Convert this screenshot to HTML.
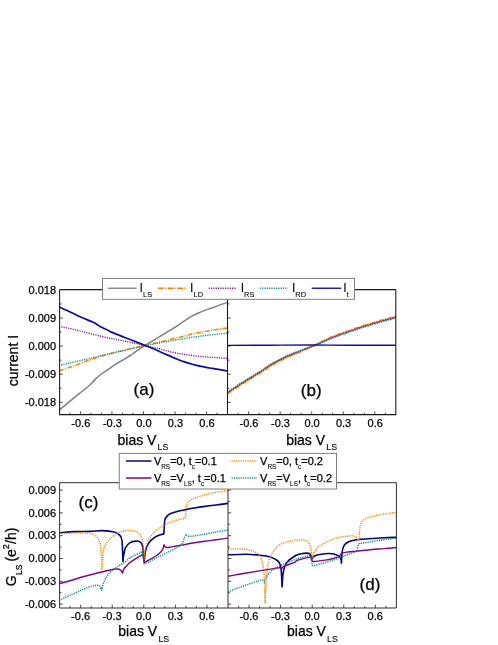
<!DOCTYPE html>
<html><head><meta charset="utf-8"><style>
html,body{margin:0;padding:0;background:#fff}
svg{display:block;will-change:transform}
text{font-family:"Liberation Sans",sans-serif;fill:#000;stroke:#000;stroke-width:0.25px}
.s{stroke-width:0.08px}
</style></head><body>
<svg width="498" height="645" viewBox="0 0 498 645">
<defs>
<clipPath id="c1"><rect x="59.6" y="289.6" width="167.9" height="125.0"/></clipPath>
<clipPath id="c2"><rect x="227.5" y="289.6" width="168.3" height="125.0"/></clipPath>
<clipPath id="c3"><rect x="59.6" y="482.7" width="168.4" height="125.30000000000001"/></clipPath>
<clipPath id="c4"><rect x="228.0" y="482.7" width="168.39999999999998" height="125.30000000000001"/></clipPath>
</defs>
<rect width="498" height="645" fill="#fff"/>
<g clip-path="url(#c1)">
<path d="M59.00,410.40 C59.13,410.28 59.00,410.82 59.80,409.70 C61.13,408.58 63.78,406.37 67.00,403.70 C70.22,401.03 75.28,396.82 79.10,393.70 C82.92,390.58 87.32,387.30 89.90,385.00 C92.48,382.70 93.00,381.48 94.60,379.90 C96.20,378.32 97.68,376.93 99.50,375.50 C101.32,374.07 103.50,372.70 105.50,371.30 C107.50,369.90 109.50,368.45 111.50,367.10 C113.50,365.75 115.48,364.45 117.50,363.20 C119.52,361.95 121.48,360.88 123.60,359.60 C125.72,358.32 128.12,356.87 130.20,355.50 C132.28,354.13 133.62,353.07 136.10,351.40 C138.58,349.72 142.08,347.37 145.10,345.45 C148.12,343.53 151.72,341.41 154.20,339.90 C156.68,338.39 157.85,337.70 160.00,336.40 C162.15,335.10 164.42,333.73 167.10,332.10 C169.78,330.47 173.78,328.08 176.10,326.60 C178.42,325.12 179.35,324.33 181.00,323.20 C182.65,322.07 184.10,321.03 186.00,319.80 C187.90,318.57 190.13,317.02 192.40,315.80 C194.67,314.58 196.28,313.85 199.60,312.50 C202.92,311.15 208.68,309.05 212.30,307.70 C215.92,306.35 218.68,305.33 221.30,304.40 C223.92,303.47 226.88,302.48 228.00,302.10" fill="none" stroke="#808080" stroke-width="1.5" stroke-linejoin="round" stroke-linecap="butt"/>
<path d="M59.00,371.00 C61.35,370.18 68.75,367.68 73.10,366.10 C77.45,364.52 81.68,362.77 85.10,361.50 C88.52,360.23 90.92,359.38 93.60,358.50 C96.28,357.62 98.13,357.07 101.20,356.20 C104.27,355.33 108.18,354.28 112.00,353.30 C115.82,352.32 120.08,351.28 124.10,350.30 C128.12,349.32 132.60,348.21 136.10,347.40 C139.60,346.59 142.08,346.13 145.10,345.45 C148.12,344.77 151.72,343.88 154.20,343.30 C156.68,342.73 157.85,342.50 160.00,342.00 C162.15,341.50 164.42,340.95 167.10,340.30 C169.78,339.65 173.08,338.83 176.10,338.10 C179.12,337.37 182.18,336.67 185.20,335.90 C188.22,335.13 191.18,334.20 194.20,333.50 C197.22,332.80 200.28,332.25 203.30,331.70 C206.32,331.15 209.30,330.68 212.30,330.20 C215.30,329.72 218.68,329.20 221.30,328.80 C223.92,328.40 226.88,327.97 228.00,327.80" fill="none" stroke="#ff8000" stroke-width="1.5" stroke-dasharray="4.8 1.5 1.1 1.5" stroke-linejoin="round" stroke-linecap="butt"/>
<path d="M59.00,326.40 C61.35,326.88 66.07,327.65 73.10,329.30 C80.13,330.95 92.70,334.33 101.20,336.30 C109.70,338.27 118.28,339.92 124.10,341.10 C129.92,342.28 132.60,342.67 136.10,343.40 C139.60,344.12 142.08,344.77 145.10,345.45 C148.12,346.13 151.72,346.91 154.20,347.50 C156.68,348.09 157.85,348.42 160.00,349.00 C162.15,349.58 164.42,350.33 167.10,351.00 C169.78,351.67 173.08,352.42 176.10,353.00 C179.12,353.58 182.18,354.03 185.20,354.50 C188.22,354.97 191.18,355.43 194.20,355.80 C197.22,356.17 200.28,356.43 203.30,356.70 C206.32,356.97 209.30,357.18 212.30,357.40 C215.30,357.62 218.68,357.82 221.30,358.00 C223.92,358.18 226.88,358.42 228.00,358.50" fill="none" stroke="#8c0a8c" stroke-width="1.35" stroke-dasharray="1.15 1.18" stroke-linejoin="round" stroke-linecap="butt"/>
<path d="M59.00,365.50 C66.03,363.87 92.37,357.77 101.20,355.70 C110.03,353.63 108.18,353.98 112.00,353.10 C115.82,352.22 120.08,351.30 124.10,350.40 C128.12,349.50 132.60,348.52 136.10,347.70 C139.60,346.88 142.08,346.08 145.10,345.45 C148.12,344.82 151.72,344.34 154.20,343.90 C156.68,343.46 157.85,343.20 160.00,342.80 C162.15,342.40 164.42,341.98 167.10,341.50 C169.78,341.02 173.08,340.42 176.10,339.90 C179.12,339.38 182.18,338.88 185.20,338.40 C188.22,337.92 191.18,337.43 194.20,337.00 C197.22,336.57 200.28,336.18 203.30,335.80 C206.32,335.42 209.30,335.05 212.30,334.70 C215.30,334.35 218.68,333.97 221.30,333.70 C223.92,333.43 226.88,333.20 228.00,333.10" fill="none" stroke="#088a8a" stroke-width="1.35" stroke-dasharray="1.15 1.18" stroke-linejoin="round" stroke-linecap="butt"/>
<path d="M59.00,306.60 C60.33,307.27 63.65,308.98 67.00,310.60 C70.35,312.22 75.08,314.50 79.10,316.30 C83.12,318.10 88.48,320.27 91.10,321.40 C93.72,322.53 93.58,322.42 94.80,323.10 C96.02,323.78 97.00,324.68 98.40,325.50 C99.80,326.32 101.60,327.20 103.20,328.00 C104.80,328.80 106.53,329.57 108.00,330.30 C109.47,331.03 109.32,331.25 112.00,332.40 C114.68,333.55 120.08,335.63 124.10,337.20 C128.12,338.77 132.60,340.43 136.10,341.80 C139.60,343.18 142.08,344.25 145.10,345.45 C148.12,346.65 151.72,347.96 154.20,349.00 C156.68,350.04 157.85,350.72 160.00,351.70 C162.15,352.68 164.42,353.73 167.10,354.90 C169.78,356.07 173.08,357.50 176.10,358.70 C179.12,359.90 182.48,361.17 185.20,362.10 C187.92,363.03 190.00,363.63 192.40,364.30 C194.80,364.97 196.28,365.42 199.60,366.10 C202.92,366.78 208.68,367.77 212.30,368.40 C215.92,369.03 218.68,369.45 221.30,369.90 C223.92,370.35 226.88,370.90 228.00,371.10" fill="none" stroke="#0c0ca4" stroke-width="1.7" stroke-linejoin="round" stroke-linecap="butt"/>
</g><g clip-path="url(#c2)">
<path d="M227.40,392.80 C229.50,391.42 236.57,386.72 240.00,384.50 C243.43,382.28 245.33,381.15 248.00,379.50 C250.67,377.85 253.33,376.25 256.00,374.60 C258.67,372.95 261.67,371.12 264.00,369.60 C266.33,368.08 268.00,366.75 270.00,365.50 C272.00,364.25 274.00,363.18 276.00,362.10 C278.00,361.02 279.67,360.15 282.00,359.00 C284.33,357.85 287.33,356.37 290.00,355.20 C292.67,354.03 293.75,353.70 298.00,352.00 C302.25,350.30 311.00,346.88 315.50,345.00 C320.00,343.12 321.75,342.13 325.00,340.70 C328.25,339.27 329.50,338.47 335.00,336.40 C340.50,334.33 353.00,330.03 358.00,328.30 C363.00,326.57 361.33,327.13 365.00,326.00 C368.67,324.87 374.80,322.98 380.00,321.50 C385.20,320.02 393.50,317.83 396.20,317.10" fill="none" stroke="#808080" stroke-width="1.5" stroke-linejoin="round" stroke-linecap="butt"/>
<path d="M227.40,393.60 C229.50,392.22 236.57,387.52 240.00,385.30 C243.43,383.08 245.33,381.95 248.00,380.30 C250.67,378.65 253.33,377.05 256.00,375.40 C258.67,373.75 261.67,371.92 264.00,370.40 C266.33,368.88 268.00,367.55 270.00,366.30 C272.00,365.05 274.00,363.98 276.00,362.90 C278.00,361.82 279.67,360.95 282.00,359.80 C284.33,358.65 287.33,357.16 290.00,355.99 C292.67,354.82 293.75,354.58 298.00,352.75 C302.25,350.92 311.00,347.11 315.50,345.00 C320.00,342.89 321.75,341.67 325.00,340.11 C328.25,338.55 329.50,337.73 335.00,335.63 C340.50,333.53 353.00,329.24 358.00,327.50 C363.00,325.76 361.33,326.33 365.00,325.20 C368.67,324.07 374.80,322.18 380.00,320.70 C385.20,319.22 393.50,317.03 396.20,316.30" fill="none" stroke="#ff8000" stroke-width="1.8" stroke-dasharray="4.8 1.5 1.1 1.5" stroke-linejoin="round" stroke-linecap="butt"/>
<path d="M227.40,392.80 C229.50,391.42 236.57,386.72 240.00,384.50 C243.43,382.28 245.33,381.15 248.00,379.50 C250.67,377.85 253.33,376.25 256.00,374.60 C258.67,372.95 261.67,371.12 264.00,369.60 C266.33,368.08 268.00,366.75 270.00,365.50 C272.00,364.25 274.00,363.18 276.00,362.10 C278.00,361.02 279.67,360.15 282.00,359.00 C284.33,357.85 287.33,356.37 290.00,355.20 C292.67,354.03 293.75,353.70 298.00,352.00 C302.25,350.30 311.00,346.88 315.50,345.00 C320.00,343.12 321.75,342.13 325.00,340.70 C328.25,339.27 329.50,338.47 335.00,336.40 C340.50,334.33 353.00,330.03 358.00,328.30 C363.00,326.57 361.33,327.13 365.00,326.00 C368.67,324.87 374.80,322.98 380.00,321.50 C385.20,320.02 393.50,317.83 396.20,317.10" fill="none" stroke="#8c0a8c" stroke-width="1.4" stroke-dasharray="1.15 1.18" stroke-linejoin="round" stroke-linecap="butt"/>
<path d="M227.40,391.90 C229.50,390.52 236.57,385.82 240.00,383.60 C243.43,381.38 245.33,380.25 248.00,378.60 C250.67,376.95 253.33,375.35 256.00,373.70 C258.67,372.05 261.67,370.22 264.00,368.70 C266.33,367.18 268.00,365.85 270.00,364.60 C272.00,363.35 274.00,362.28 276.00,361.20 C278.00,360.12 279.67,359.25 282.00,358.10 C284.33,356.95 287.33,355.47 290.00,354.31 C292.67,353.15 293.75,352.70 298.00,351.15 C302.25,349.60 311.00,346.63 315.50,345.00 C320.00,343.37 321.75,342.66 325.00,341.37 C328.25,340.08 329.50,339.29 335.00,337.26 C340.50,335.24 353.00,330.93 358.00,329.20 C363.00,327.47 361.33,328.03 365.00,326.90 C368.67,325.77 374.80,323.88 380.00,322.40 C385.20,320.92 393.50,318.73 396.20,318.00" fill="none" stroke="#088a8a" stroke-width="1.4" stroke-dasharray="1.15 1.18" stroke-linejoin="round" stroke-linecap="butt"/>
<path d="M227.60,345.40 C234.67,345.37 255.97,345.27 270.00,345.20 C284.03,345.13 298.47,344.98 311.80,345.00 C325.13,345.02 335.88,345.25 350.00,345.30 C364.12,345.35 388.75,345.30 396.50,345.30" fill="none" stroke="#0c0ca4" stroke-width="1.4" stroke-linejoin="round" stroke-linecap="butt"/>
</g>
<g clip-path="url(#c3)">
<path d="M59.50,532.80 C62.08,532.60 69.92,531.83 75.00,531.60 C80.08,531.37 85.49,531.57 90.00,531.40 C94.51,531.23 98.03,530.49 102.05,530.60 C106.06,530.71 111.08,531.20 114.10,532.05 C117.11,532.89 118.82,534.26 120.12,535.66 C121.43,537.07 121.53,538.07 121.93,540.48 C122.33,542.89 122.37,546.61 122.53,550.12 C122.69,553.63 122.83,559.66 122.89,561.57 C123.03,560.46 123.29,557.25 123.73,554.94 C124.18,552.63 124.54,549.72 125.54,547.71 C126.55,545.70 128.05,544.00 129.76,542.89 C131.47,541.79 133.98,541.18 135.78,541.08 C137.59,540.98 139.46,541.39 140.60,542.29 C141.75,543.19 142.19,544.40 142.65,546.51 C143.11,548.61 143.13,552.35 143.37,554.94 C143.62,557.53 144.01,560.85 144.14,562.03 C144.25,560.91 144.49,557.58 144.84,555.28 C145.19,552.99 145.54,550.36 146.25,548.26 C146.95,546.15 147.89,544.27 149.06,542.63 C150.23,540.99 151.63,539.63 153.27,538.42 C154.91,537.20 157.14,536.07 158.90,535.32 C160.65,534.57 163.00,534.15 163.82,533.92 C163.89,532.79 164.07,529.47 164.24,527.17 C164.40,524.87 164.40,521.90 164.80,520.14 C165.20,518.38 165.74,517.68 166.63,516.63 C167.52,515.57 168.38,514.68 170.14,513.82 C171.90,512.95 174.59,512.13 177.17,511.43 C179.75,510.72 182.56,510.21 185.60,509.60 C188.65,508.99 192.21,508.31 195.44,507.77 C198.68,507.23 201.58,506.83 205.00,506.37 C208.43,505.90 212.13,505.49 216.00,505.00 C219.87,504.51 226.17,503.67 228.20,503.40" fill="none" stroke="#04047e" stroke-width="1.6" stroke-linejoin="round" stroke-linecap="butt"/>
<path d="M59.50,533.60 C62.17,533.50 70.42,533.06 75.50,533.00 C80.58,532.94 86.78,532.91 90.00,533.25 C93.22,533.60 93.41,534.06 94.82,535.06 C96.22,536.06 97.53,537.77 98.43,539.28 C99.34,540.78 99.80,542.09 100.24,544.10 C100.68,546.10 100.84,548.51 101.08,551.33 C101.33,554.14 101.57,557.85 101.69,560.96 C101.81,564.08 101.79,568.49 101.81,570.00 C101.91,568.49 102.17,564.08 102.41,560.96 C102.65,557.85 102.81,553.94 103.25,551.33 C103.69,548.71 104.26,547.01 105.06,545.30 C105.86,543.59 106.97,542.39 108.07,541.08 C109.18,539.78 110.38,538.61 111.69,537.47 C112.99,536.33 114.50,535.12 115.90,534.22 C117.31,533.31 118.61,532.61 120.12,532.05 C121.63,531.49 123.33,531.08 124.94,530.84 C126.55,530.60 127.95,530.50 129.76,530.60 C131.57,530.70 134.18,530.90 135.78,531.45 C137.39,531.99 138.39,532.75 139.40,533.86 C140.40,534.96 141.20,536.37 141.81,538.07 C142.41,539.78 142.71,541.49 143.01,544.10 C143.31,546.71 143.43,550.82 143.61,553.73 C143.80,556.65 144.05,560.30 144.14,561.61 C144.30,559.85 144.77,553.76 145.12,551.07 C145.47,548.37 145.59,547.44 146.25,545.44 C146.90,543.45 147.89,541.11 149.06,539.12 C150.23,537.13 151.63,535.25 153.27,533.50 C154.91,531.74 157.02,529.98 158.90,528.58 C160.77,527.17 162.41,526.19 164.52,525.06 C166.63,523.94 169.20,522.72 171.55,521.83 C173.89,520.94 176.35,520.28 178.58,519.72 C180.80,519.16 183.85,518.67 184.90,518.46 C185.02,517.92 185.42,517.05 185.60,515.22 C185.79,513.39 185.67,509.60 186.03,507.49 C186.38,505.38 186.85,503.86 187.71,502.57 C188.58,501.28 189.70,500.63 191.23,499.76 C192.75,498.89 194.55,498.19 196.85,497.37 C199.15,496.55 202.46,495.55 205.00,494.84 C207.54,494.13 209.42,493.66 212.10,493.10 C214.78,492.54 218.42,491.97 221.10,491.50 C223.78,491.03 227.02,490.50 228.20,490.30" fill="none" stroke="#ff8000" stroke-width="1.5" stroke-dasharray="1.13 1.15" stroke-linejoin="round" stroke-linecap="butt"/>
<path d="M59.22,583.82 C60.86,583.35 65.07,582.18 69.06,581.01 C73.04,579.83 78.43,578.12 83.11,576.79 C87.80,575.45 92.48,574.16 97.17,572.99 C101.86,571.82 107.95,570.42 111.23,569.76 C114.51,569.10 115.33,569.06 116.85,569.06 C118.37,569.06 119.43,569.10 120.36,569.76 C121.30,570.42 122.12,572.45 122.47,572.99 C122.71,572.34 123.47,569.96 123.88,569.06 C124.29,568.16 123.96,568.64 124.94,567.59 C125.92,566.54 127.95,564.28 129.76,562.77 C131.57,561.27 133.98,559.76 135.78,558.55 C137.59,557.35 139.46,556.24 140.60,555.54 C141.75,554.84 142.31,554.54 142.65,554.34 C142.83,554.96 143.47,556.72 143.72,558.10 C143.96,559.47 144.07,561.84 144.14,562.59 C144.96,562.12 147.07,560.88 149.06,559.78 C151.05,558.68 154.09,557.32 156.09,555.99 C158.08,554.65 159.83,553.06 161.01,551.77 C162.18,550.48 162.60,549.43 163.11,548.26 C163.63,547.08 163.93,545.33 164.10,544.74 C164.28,545.09 164.68,546.38 165.22,546.85 C165.76,547.32 166.28,547.55 167.33,547.55 C168.38,547.55 169.20,547.25 171.55,546.85 C173.89,546.45 178.11,545.75 181.39,545.16 C184.67,544.58 187.29,543.99 191.23,543.34 C195.16,542.68 200.87,541.82 205.00,541.23 C209.13,540.64 212.13,540.32 216.00,539.80 C219.87,539.28 226.17,538.38 228.20,538.10" fill="none" stroke="#820682" stroke-width="1.45" stroke-linejoin="round" stroke-linecap="butt"/>
<path d="M59.22,600.40 C60.86,599.63 65.07,597.59 69.06,595.76 C73.04,593.94 79.37,591.03 83.11,589.44 C86.86,587.85 89.20,586.91 91.55,586.21 C93.89,585.50 95.81,585.22 97.17,585.22 C98.53,585.22 98.95,585.39 99.70,586.21 C100.45,587.03 101.34,589.49 101.67,590.14 C101.97,588.97 102.61,585.46 103.50,583.11 C104.39,580.77 105.72,578.08 107.01,576.09 C108.30,574.09 109.59,572.69 111.23,571.17 C112.87,569.64 114.74,568.35 116.85,566.95 C118.96,565.54 121.73,564.23 123.88,562.73 C126.03,561.23 127.77,559.25 129.76,557.95 C131.74,556.65 133.98,555.84 135.78,554.94 C137.59,554.04 139.46,553.09 140.60,552.53 C141.75,551.97 142.31,551.73 142.65,551.57 C142.81,552.93 143.34,557.73 143.61,559.76 C143.89,561.78 144.17,563.06 144.28,563.72 C145.07,563.37 147.09,562.55 149.06,561.61 C151.02,560.67 153.74,559.27 156.09,558.10 C158.43,556.92 160.77,555.75 163.11,554.58 C165.46,553.41 167.80,552.24 170.14,551.07 C172.48,549.90 175.18,548.72 177.17,547.55 C179.16,546.38 180.92,545.56 182.09,544.04 C183.26,542.52 183.57,540.06 184.20,538.42 C184.83,536.78 185.60,534.90 185.89,534.20 C186.19,534.48 186.82,535.53 187.71,535.89 C188.60,536.24 189.47,536.40 191.23,536.31 C192.98,536.21 195.96,535.67 198.26,535.32 C200.55,534.97 202.05,534.75 205.00,534.20 C207.96,533.64 212.13,532.70 216.00,532.00 C219.87,531.30 226.17,530.33 228.20,530.00" fill="none" stroke="#048484" stroke-width="1.5" stroke-dasharray="1.13 1.15" stroke-linejoin="round" stroke-linecap="butt"/>
</g>
<g clip-path="url(#c4)">
<path d="M225.70,555.02 C229.10,554.88 240.35,554.13 246.09,554.18 C251.83,554.22 256.16,554.83 260.14,555.30 C264.12,555.77 267.17,556.17 269.98,556.99 C272.79,557.81 275.37,559.10 277.01,560.22 C278.65,561.35 279.12,561.98 279.82,563.74 C280.52,565.49 280.85,566.90 281.23,570.76 C281.60,574.63 281.93,584.24 282.07,586.93 C282.21,584.94 282.47,578.38 282.91,574.98 C283.36,571.58 283.85,568.89 284.74,566.55 C285.63,564.20 286.55,562.68 288.26,560.92 C289.97,559.17 293.77,556.91 295.00,556.01 C295.62,555.10 295.00,555.91 295.62,555.52 C296.66,555.14 299.37,554.10 301.25,553.70 C303.12,553.30 305.46,553.13 306.87,553.13 C308.27,553.13 308.98,553.30 309.68,553.70 C310.38,554.10 310.71,554.52 311.09,555.52 C311.46,556.53 311.79,559.04 311.93,559.74 C312.14,559.27 312.16,557.75 313.19,556.93 C314.22,556.11 316.12,555.36 318.11,554.82 C320.10,554.28 322.80,553.88 325.14,553.70 C327.48,553.51 330.30,553.51 332.17,553.70 C334.04,553.88 335.22,554.40 336.39,554.82 C337.56,555.24 338.45,555.52 339.20,556.23 C339.95,556.93 340.51,557.87 340.89,559.04 C341.26,560.21 341.35,562.55 341.45,563.26 C341.54,561.58 341.73,555.87 342.02,553.19 C342.32,550.51 342.63,548.78 343.23,547.17 C343.83,545.56 344.63,544.52 345.64,543.55 C346.64,542.59 347.85,541.93 349.25,541.39 C350.66,540.84 352.27,540.64 354.07,540.30 C355.88,539.96 357.08,539.64 360.10,539.34 C363.11,539.04 368.13,538.76 372.14,538.49 C376.16,538.23 380.08,537.97 384.19,537.77 C388.31,537.57 394.73,537.37 396.84,537.29" fill="none" stroke="#04047e" stroke-width="1.6" stroke-linejoin="round" stroke-linecap="butt"/>
<path d="M225.70,548.98 C227.46,548.98 232.85,548.91 236.25,548.98 C239.64,549.05 243.27,549.05 246.09,549.40 C248.90,549.75 251.01,550.22 253.11,551.09 C255.22,551.95 257.33,553.19 258.74,554.60 C260.14,556.01 260.80,557.29 261.55,559.52 C262.30,561.74 262.77,564.67 263.23,567.95 C263.70,571.23 264.05,573.29 264.36,579.20 C264.66,585.10 264.94,599.35 265.06,603.38 C265.25,599.35 265.76,585.34 266.19,579.20 C266.61,573.06 266.96,570.06 267.59,566.55 C268.22,563.03 269.00,560.69 269.98,558.11 C270.97,555.54 272.02,553.19 273.50,551.09 C274.97,548.98 276.85,546.92 278.84,545.46 C280.83,544.01 282.75,543.26 285.44,542.37 C288.14,541.48 293.24,540.45 295.00,540.12 C296.00,539.80 295.03,540.47 296.00,540.42 C296.97,540.37 299.41,539.88 300.82,539.82 C302.22,539.76 303.23,539.72 304.43,540.06 C305.64,540.40 307.14,541.06 308.05,541.87 C308.95,542.67 309.35,543.67 309.86,544.88 C310.36,546.08 310.76,547.39 311.06,549.10 C311.36,550.80 311.48,553.41 311.66,555.12 C311.84,556.83 312.06,558.63 312.14,559.34 C312.37,558.43 312.95,555.32 313.47,553.92 C313.99,552.51 314.47,552.01 315.28,550.90 C316.08,549.80 317.08,548.39 318.29,547.29 C319.49,546.18 321.00,545.22 322.51,544.28 C324.01,543.33 325.72,542.43 327.33,541.63 C328.93,540.82 330.34,540.12 332.14,539.46 C333.95,538.80 336.16,538.15 338.17,537.65 C340.18,537.15 342.18,536.71 344.19,536.45 C346.20,536.18 348.77,536.20 350.22,536.08 C351.66,535.96 351.92,535.58 352.87,535.72 C353.81,535.86 355.08,536.33 355.88,536.93 C356.68,537.53 357.18,538.84 357.69,539.34 C358.19,539.84 358.69,539.84 358.89,539.94 C358.99,538.94 359.29,536.12 359.49,533.92 C359.69,531.71 359.80,528.59 360.10,526.69 C360.40,524.78 360.70,523.57 361.30,522.47 C361.90,521.37 362.51,520.86 363.71,520.06 C364.92,519.26 366.52,518.39 368.53,517.65 C370.54,516.91 373.15,516.20 375.76,515.60 C378.37,515.00 380.68,514.58 384.19,514.04 C387.71,513.49 394.73,512.63 396.84,512.35" fill="none" stroke="#ff8000" stroke-width="1.5" stroke-dasharray="1.13 1.15" stroke-linejoin="round" stroke-linecap="butt"/>
<path d="M225.70,576.67 C227.93,576.27 234.49,575.08 239.06,574.28 C243.63,573.48 248.43,572.66 253.11,571.89 C257.80,571.12 262.72,570.34 267.17,569.64 C271.62,568.94 277.36,567.84 279.82,567.67 C281.93,567.51 281.58,568.49 281.93,568.66 C282.16,568.30 281.93,567.65 283.34,566.55 C285.51,565.45 292.72,563.07 295.00,562.05 C297.03,561.03 295.52,561.06 297.03,560.44 C298.54,559.83 301.83,558.92 304.06,558.34 C306.28,557.75 309.33,557.16 310.38,556.93 C310.55,557.28 311.01,558.27 311.37,559.04 C311.72,559.81 312.30,561.15 312.49,561.57 C313.43,561.50 316.01,561.38 318.11,561.15 C320.22,560.91 322.80,560.56 325.14,560.16 C327.48,559.76 330.06,559.30 332.17,558.76 C334.28,558.22 336.50,557.47 337.79,556.93 C339.08,556.39 339.20,556.16 339.90,555.52 C340.60,554.89 340.65,553.72 342.01,553.13 C343.37,552.55 345.44,552.34 348.05,551.99 C350.66,551.64 353.67,551.43 357.69,551.02 C361.70,550.62 367.73,549.98 372.14,549.58 C376.56,549.18 380.08,548.98 384.19,548.61 C388.31,548.25 394.73,547.61 396.84,547.41" fill="none" stroke="#820682" stroke-width="1.45" stroke-linejoin="round" stroke-linecap="butt"/>
<path d="M225.70,592.55 C227.93,591.73 234.49,589.27 239.06,587.63 C243.63,585.99 249.37,584.00 253.11,582.71 C256.86,581.42 259.67,580.02 261.55,579.90 C263.42,579.78 263.89,581.66 264.36,582.01 C264.59,581.42 264.83,580.14 265.76,578.50 C266.70,576.86 268.34,573.93 269.98,572.17 C271.62,570.41 273.73,569.12 275.60,567.95 C277.48,566.78 279.12,566.13 281.23,565.14 C283.34,564.16 285.96,562.99 288.26,562.05 C290.55,561.11 293.77,560.02 295.00,559.52 C295.62,559.02 295.00,559.35 295.62,559.04 C296.66,558.72 299.37,558.10 301.25,557.63 C303.12,557.16 305.35,556.63 306.87,556.23 C308.39,555.83 309.80,555.41 310.38,555.24 C310.55,555.88 311.06,557.47 311.37,559.04 C311.67,560.61 311.91,563.54 312.21,564.66 C312.51,565.79 313.03,565.60 313.19,565.79 C314.01,565.55 316.12,564.92 318.11,564.38 C320.10,563.84 322.80,563.21 325.14,562.55 C327.48,561.90 329.83,561.26 332.17,560.44 C334.51,559.62 336.86,558.52 339.20,557.63 C341.54,556.74 344.12,555.85 346.23,555.10 C348.34,554.35 350.14,553.75 351.85,553.13 C353.56,552.52 355.51,552.38 356.48,551.39 C357.45,550.39 357.29,548.43 357.69,547.17 C358.09,545.90 358.29,544.44 358.89,543.80 C359.49,543.15 359.90,543.55 361.30,543.31 C362.71,543.07 364.92,542.75 367.33,542.35 C369.73,541.95 372.95,541.35 375.76,540.90 C378.57,540.46 380.68,540.18 384.19,539.70 C387.71,539.22 394.73,538.29 396.84,538.01" fill="none" stroke="#048484" stroke-width="1.5" stroke-dasharray="1.13 1.15" stroke-linejoin="round" stroke-linecap="butt"/>
</g>
<path d="M59.6,289.6 V414.6 H395.8 V289.6 M227.5,289.6 V414.6 M59.6,289.6 H102 M355,289.6 H395.8" fill="none" stroke="#1a1a1a" stroke-width="1.05"/>
<path d="M59.6,482.7 V608.0 H396.4 V482.7 M228.0,482.7 V608.0 M59.6,482.7 H119.5 M336.5,482.7 H396.4" fill="none" stroke="#1a1a1a" stroke-width="0.9"/>
<path d="M69.88,414.6 v-1.9 M80.40,414.6 v-3.2 M90.92,414.6 v-1.9 M101.43,414.6 v-1.9 M111.95,414.6 v-3.2 M122.47,414.6 v-1.9 M132.98,414.6 v-1.9 M143.50,414.6 v-3.2 M154.02,414.6 v-1.9 M164.53,414.6 v-1.9 M175.05,414.6 v-3.2 M185.57,414.6 v-1.9 M196.08,414.6 v-1.9 M206.60,414.6 v-3.2 M217.12,414.6 v-1.9 M238.08,414.6 v-1.9 M248.60,414.6 v-3.2 M259.12,414.6 v-1.9 M269.63,414.6 v-1.9 M280.15,414.6 v-3.2 M290.67,414.6 v-1.9 M301.18,414.6 v-1.9 M311.70,414.6 v-3.2 M322.22,414.6 v-1.9 M332.73,414.6 v-1.9 M343.25,414.6 v-3.2 M353.77,414.6 v-1.9 M364.28,414.6 v-1.9 M374.80,414.6 v-3.2 M385.32,414.6 v-1.9 M70.13,608.0 v-1.9 M80.65,608.0 v-3.2 M91.18,608.0 v-1.9 M101.70,608.0 v-1.9 M112.23,608.0 v-3.2 M122.75,608.0 v-1.9 M133.28,608.0 v-1.9 M143.80,608.0 v-3.2 M154.33,608.0 v-1.9 M164.85,608.0 v-1.9 M175.38,608.0 v-3.2 M185.90,608.0 v-1.9 M196.43,608.0 v-1.9 M206.95,608.0 v-3.2 M217.48,608.0 v-1.9 M238.52,608.0 v-1.9 M249.05,608.0 v-3.2 M259.57,608.0 v-1.9 M270.10,608.0 v-1.9 M280.62,608.0 v-3.2 M291.15,608.0 v-1.9 M301.68,608.0 v-1.9 M312.20,608.0 v-3.2 M322.72,608.0 v-1.9 M333.25,608.0 v-1.9 M343.77,608.0 v-3.2 M354.30,608.0 v-1.9 M364.82,608.0 v-1.9 M375.35,608.0 v-3.2 M385.88,608.0 v-1.9 M59.6,402.30 h3.2 M59.6,388.25 h1.9 M59.6,374.20 h3.2 M59.6,360.15 h1.9 M59.6,346.10 h3.2 M59.6,332.05 h1.9 M59.6,318.00 h3.2 M59.6,303.95 h1.9 M227.5,402.30 h3.2 M227.5,388.25 h1.9 M227.5,374.20 h3.2 M227.5,360.15 h1.9 M227.5,346.10 h3.2 M227.5,332.05 h1.9 M227.5,318.00 h3.2 M227.5,303.95 h1.9 M59.6,604.10 h3.2 M59.6,592.70 h1.9 M59.6,581.30 h3.2 M59.6,569.90 h1.9 M59.6,558.50 h3.2 M59.6,547.10 h1.9 M59.6,535.70 h3.2 M59.6,524.30 h1.9 M59.6,512.90 h3.2 M59.6,501.50 h1.9 M59.6,490.10 h3.2 M228.0,604.10 h3.2 M228.0,592.70 h1.9 M228.0,581.30 h3.2 M228.0,569.90 h1.9 M228.0,558.50 h3.2 M228.0,547.10 h1.9 M228.0,535.70 h3.2 M228.0,524.30 h1.9 M228.0,512.90 h3.2 M228.0,501.50 h1.9 M228.0,490.10 h3.2" fill="none" stroke="#1a1a1a" stroke-width="0.78"/>
<text x="80.8" y="426.6" font-size="11" text-anchor="middle">-0.6</text>
<text x="112.4" y="426.6" font-size="11" text-anchor="middle">-0.3</text>
<text x="143.9" y="426.6" font-size="11" text-anchor="middle">0.0</text>
<text x="175.5" y="426.6" font-size="11" text-anchor="middle">0.3</text>
<text x="207.0" y="426.6" font-size="11" text-anchor="middle">0.6</text>
<text x="249.0" y="426.6" font-size="11" text-anchor="middle">-0.6</text>
<text x="280.5" y="426.6" font-size="11" text-anchor="middle">-0.3</text>
<text x="312.1" y="426.6" font-size="11" text-anchor="middle">0.0</text>
<text x="343.6" y="426.6" font-size="11" text-anchor="middle">0.3</text>
<text x="375.2" y="426.6" font-size="11" text-anchor="middle">0.6</text>
<text x="80.6" y="620.3" font-size="11" text-anchor="middle">-0.6</text>
<text x="112.1" y="620.3" font-size="11" text-anchor="middle">-0.3</text>
<text x="143.7" y="620.3" font-size="11" text-anchor="middle">0.0</text>
<text x="175.3" y="620.3" font-size="11" text-anchor="middle">0.3</text>
<text x="206.9" y="620.3" font-size="11" text-anchor="middle">0.6</text>
<text x="248.9" y="620.3" font-size="11" text-anchor="middle">-0.6</text>
<text x="280.5" y="620.3" font-size="11" text-anchor="middle">-0.3</text>
<text x="312.1" y="620.3" font-size="11" text-anchor="middle">0.0</text>
<text x="343.7" y="620.3" font-size="11" text-anchor="middle">0.3</text>
<text x="375.2" y="620.3" font-size="11" text-anchor="middle">0.6</text>
<text x="56.1" y="293.5" font-size="11" text-anchor="end">0.018</text>
<text x="56.1" y="321.6" font-size="11" text-anchor="end">0.009</text>
<text x="56.1" y="349.7" font-size="11" text-anchor="end">0.000</text>
<text x="56.1" y="377.8" font-size="11" text-anchor="end">-0.009</text>
<text x="56.1" y="405.9" font-size="11" text-anchor="end">-0.018</text>
<text x="56.1" y="493.7" font-size="11" text-anchor="end">0.009</text>
<text x="56.1" y="516.5" font-size="11" text-anchor="end">0.006</text>
<text x="56.1" y="539.3" font-size="11" text-anchor="end">0.003</text>
<text x="56.1" y="562.1" font-size="11" text-anchor="end">0.000</text>
<text x="56.1" y="584.9" font-size="11" text-anchor="end">-0.003</text>
<text x="56.1" y="607.7" font-size="11" text-anchor="end">-0.006</text>
<text x="117.5" y="444.6" font-size="14">bias V<tspan class="s" font-size="8.8" dy="5" dx="1.2">LS</tspan></text>
<text x="286.2" y="444.6" font-size="14">bias V<tspan class="s" font-size="8.8" dy="5" dx="1.2">LS</tspan></text>
<text x="118.3" y="636.2" font-size="14">bias V<tspan class="s" font-size="8.8" dy="5.8" dx="1.2">LS</tspan></text>
<text x="287" y="636.2" font-size="14">bias V<tspan class="s" font-size="8.8" dy="5.8" dx="1.2">LS</tspan></text>
<text transform="translate(18.1,386.3) rotate(-90)" font-size="14">current I</text>
<g transform="translate(16.3,586.3) rotate(-90)" font-size="14"><text x="0" y="0">G</text><text x="11.4" y="5.8" font-size="8.6">LS</text><text x="24.75" y="0">(e</text><text x="37" y="-7.4" font-size="9">2</text><text x="42.4" y="0">/h)</text></g>
<text x="133.6" y="394.9" font-size="17">(a)</text>
<text x="300.8" y="395.8" font-size="17">(b)</text>
<text x="78.6" y="507.6" font-size="17">(c)</text>
<text x="359.6" y="589.6" font-size="17">(d)</text>
<rect x="102.5" y="278.5" width="252" height="20.8" fill="#fff" stroke="#808080" stroke-width="1"/>
<path d="M108,288.25 H136.6" stroke="#808080" stroke-width="1.35"/>
<text class="s" x="139.6" y="291.6" font-size="12.3">I<tspan font-size="7.4" dy="5.4">LS</tspan></text>
<path d="M158,288.25 H187.2" stroke="#ff8000" stroke-width="1.35" stroke-dasharray="5.8 1.3 1.2 1.3"/>
<text class="s" x="190.1" y="291.6" font-size="12.3">I<tspan font-size="7.4" dy="5.4">LD</tspan></text>
<path d="M208.7,288.25 H236.1" stroke="#8c0a8c" stroke-width="1.35" stroke-dasharray="1.15 1.18"/>
<text class="s" x="240.7" y="291.6" font-size="12.3">I<tspan font-size="7.4" dy="5.4">RS</tspan></text>
<path d="M259.7,288.25 H287.4" stroke="#088a8a" stroke-width="1.35" stroke-dasharray="1.15 1.18"/>
<text class="s" x="291.9" y="291.6" font-size="12.3">I<tspan font-size="7.4" dy="5.4">RD</tspan></text>
<path d="M311.7,288.25 H341.2" stroke="#0c0ca4" stroke-width="1.35"/>
<text class="s" x="343.2" y="291.6" font-size="12.3">I<tspan font-size="7.4" dy="5.4">t</tspan></text>
<rect x="119.3" y="453.4" width="217.2" height="35.6" fill="#fff" stroke="#808080" stroke-width="1"/>
<path d="M126,461 H151.4" stroke="#04047e" stroke-width="1.5"/>
<text x="153.9" y="464.9" font-size="11">V<tspan class="s" font-size="6.4" dy="4.0">RS</tspan><tspan dy="-4.0">=0, t</tspan><tspan class="s" font-size="6.4" dy="4.0">c</tspan><tspan dy="-4.0">=0.1</tspan></text>
<path d="M126,478 H151.4" stroke="#820682" stroke-width="1.5"/>
<text x="153.9" y="482.0" font-size="11">V<tspan class="s" font-size="6.4" dy="4.0">RS</tspan><tspan dy="-4.0">=V</tspan><tspan class="s" font-size="6.4" dy="4.0">LS</tspan><tspan dy="-4.0">, t</tspan><tspan class="s" font-size="6.4" dy="4.0">c</tspan><tspan dy="-4.0">=0.1</tspan></text>
<path d="M231.6,461 H257" stroke="#ff8000" stroke-width="1.5" stroke-dasharray="1.13 1.15"/>
<text x="260.1" y="464.9" font-size="11">V<tspan class="s" font-size="6.4" dy="4.0">RS</tspan><tspan dy="-4.0">=0, t</tspan><tspan class="s" font-size="6.4" dy="4.0">c</tspan><tspan dy="-4.0">=0.2</tspan></text>
<path d="M231.6,478 H257" stroke="#048484" stroke-width="1.5" stroke-dasharray="1.13 1.15"/>
<text x="260.1" y="482.0" font-size="11">V<tspan class="s" font-size="6.4" dy="4.0">RS</tspan><tspan dy="-4.0">=V</tspan><tspan class="s" font-size="6.4" dy="4.0">LS</tspan><tspan dy="-4.0">, t</tspan><tspan class="s" font-size="6.4" dy="4.0">c</tspan><tspan dy="-4.0">=0.2</tspan></text>
</svg>
</body></html>
